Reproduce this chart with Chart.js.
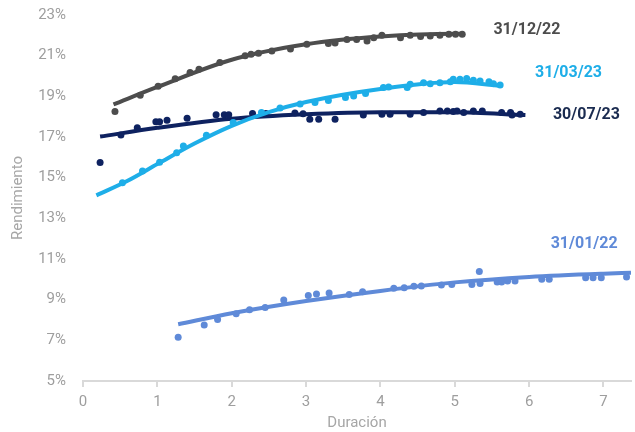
<!DOCTYPE html>
<html>
<head>
<meta charset="utf-8">
<script src="https://cdn.jsdelivr.net/npm/chart.js@4/dist/chart.umd.min.js"></script>
<style>
  html, body { margin: 0; padding: 0; background: #fff; }
  #wrap { width: 635px; height: 432px; position: relative; }
</style>
</head>
<body>
<div id="wrap"><canvas id="chartCurves"></canvas></div>
<script>
const xTicks = [0, 1, 2, 3, 4, 5, 6, 7];

// 31/01/22
const dur0122 = [1.28,1.63,1.81,2.06,2.24,2.45,2.70,3.03,3.14,3.31,3.58,3.76,4.18,4.32,4.45,4.55,4.82,4.96,5.23,5.33,5.34,5.57,5.63,5.71,5.81,6.17,6.27,6.76,6.86,6.97,7.31];
const yld0122 = [7.15,7.75,8.03,8.31,8.50,8.62,8.98,9.20,9.28,9.33,9.26,9.39,9.56,9.59,9.66,9.67,9.72,9.75,9.75,10.38,9.79,9.87,9.87,9.92,9.92,10.00,10.00,10.08,10.08,10.08,10.12];
const trendX0122 = [1.28,2,3,4,5,6,7,7.37];
const trendY0122 = [7.79,8.33,8.93,9.43,9.85,10.12,10.28,10.32];

// 31/12/22
const dur1222 = [0.43,0.77,1.01,1.24,1.44,1.56,1.84,2.18,2.26,2.36,2.54,2.79,3.01,3.30,3.39,3.55,3.68,3.82,3.91,4.02,4.27,4.40,4.54,4.67,4.80,4.92,5.01,5.10];
const yld1222 = [18.25,19.05,19.50,19.87,20.17,20.33,20.66,20.99,21.07,21.12,21.23,21.33,21.56,21.60,21.62,21.80,21.80,21.72,21.88,22.00,21.88,22.00,21.94,21.97,22.00,22.05,22.05,22.05];
const trendX1222 = [0.41,1,2,3,4,5,5.1];
const trendY1222 = [18.6,19.46,20.8,21.56,21.94,22.08,22.08];

// 31/03/23
const dur0323 = [0.53,0.80,1.03,1.26,1.35,1.66,2.02,2.40,2.65,2.92,3.12,3.30,3.53,3.64,3.80,4.04,4.11,4.36,4.40,4.58,4.67,4.80,4.94,4.98,5.07,5.16,5.25,5.34,5.46,5.52,5.61];
const yld0323 = [14.75,15.33,15.76,16.23,16.56,17.08,17.71,18.20,18.43,18.62,18.70,18.80,18.94,19.02,19.14,19.44,19.46,19.43,19.59,19.67,19.62,19.67,19.72,19.84,19.84,19.88,19.79,19.76,19.72,19.62,19.56];
const trendX0323 = [0.18,0.6,1,1.5,2,2.5,3,4,5,5.6];
const trendY0323 = [14.13,14.85,15.67,16.68,17.55,18.22,18.72,19.36,19.70,19.53];

// 30/07/23
const dur0723 = [0.23,0.51,0.73,0.98,1.03,1.13,1.40,1.79,1.90,1.96,2.28,2.46,2.85,2.96,3.05,3.17,3.39,3.77,4.02,4.13,4.40,4.58,4.80,4.90,4.98,5.03,5.12,5.25,5.37,5.63,5.75,5.77,5.88];
const yld0723 = [15.74,17.10,17.46,17.75,17.75,17.82,17.92,18.10,18.10,18.10,18.16,18.16,18.18,18.14,17.87,17.87,17.87,18.08,18.12,18.12,18.12,18.20,18.28,18.28,18.25,18.28,18.20,18.28,18.28,18.20,18.20,18.08,18.12];
const trendX0723 = [0.23,1,2,3,4,5,5.95];
const trendY0723 = [17.02,17.45,17.9,18.12,18.22,18.22,18.08];

const seriesNames = ['31/01/22', '31/12/22', '31/03/23', '30/07/23'];
const seriesColors = ['#5f8ad8', '#4d4d4d', '#1eaee8', '#0e2260'];
// where each curve label sits, in data units (duración, rendimiento)
const labelX = [6.74, 5.97, 6.53, 6.77];
const labelY = [11.75, 22.26, 20.17, 18.08];

const pts = (xs, ys) => xs.map((x, i) => ({ x, y: ys[i] }));

const groups = [
  [dur0122, yld0122, trendX0122, trendY0122],
  [dur1222, yld1222, trendX1222, trendY1222],
  [dur0323, yld0323, trendX0323, trendY0323],
  [dur0723, yld0723, trendX0723, trendY0723],
];

const datasets = [];
groups.forEach(([dx, dy, tx, ty], i) => {
  datasets.push({
    type: 'scatter', label: seriesNames[i], data: pts(dx, dy),
    backgroundColor: seriesColors[i], borderWidth: 0, pointRadius: 3.5,
  });
  datasets.push({
    type: 'line', label: seriesNames[i] + ' tendencia', data: pts(tx, ty),
    borderColor: seriesColors[i], borderWidth: 4, pointRadius: 0,
    cubicInterpolationMode: 'monotone', fill: false,
  });
});

const curveLabels = {
  id: 'curveLabels',
  afterDatasetsDraw(chart) {
    const { ctx, scales: { x, y } } = chart;
    ctx.save();
    ctx.font = 'bold 16px Roboto';
    ctx.textAlign = 'center';
    ctx.textBaseline = 'middle';
    seriesNames.forEach((name, i) => {
      ctx.fillStyle = seriesColors[i] === '#0e2260' ? '#1a2b50' : seriesColors[i];
      ctx.fillText(name, x.getPixelForValue(labelX[i]), y.getPixelForValue(labelY[i]));
    });
    ctx.restore();
  }
};

const tickFont = { family: 'Roboto', size: 15 };

new Chart(document.getElementById('chartCurves'), {
  data: { datasets },
  plugins: [curveLabels],
  options: {
    responsive: true,
    maintainAspectRatio: false,
    animation: false,
    layout: { padding: { top: 15, right: 0, left: 9, bottom: 0 } },
    plugins: { legend: { display: false }, tooltip: { enabled: false } },
    scales: {
      x: {
        type: 'linear', min: 0, max: 7.37,
        afterBuildTicks: s => { s.ticks = xTicks.map(v => ({ value: v })); },
        afterFit: s => { s.height = 51; s.paddingLeft = 0; s.paddingRight = 0; },
        ticks: { color: '#9e9e9e', font: tickFont, padding: 6 },
        grid: { drawOnChartArea: false, color: '#d9d9d9', tickLength: 6, lineWidth: 2 },
        border: { color: '#d9d9d9', width: 2 },
        title: { display: true, text: 'Duración', color: '#a6a6a6', font: tickFont, padding: { top: 0, bottom: 0 } },
      },
      y: {
        min: 5, max: 23,
        afterFit: s => { s.width = 74; s.paddingTop = 0; s.paddingBottom = 0; },
        ticks: { stepSize: 2, color: '#9e9e9e', font: tickFont, padding: 9, callback: v => v + '%' },
        grid: { display: false },
        border: { display: false },
        title: { display: true, text: 'Rendimiento', color: '#a6a6a6', font: tickFont, padding: 0 },
      }
    }
  }
});
</script>
</body>
</html>
